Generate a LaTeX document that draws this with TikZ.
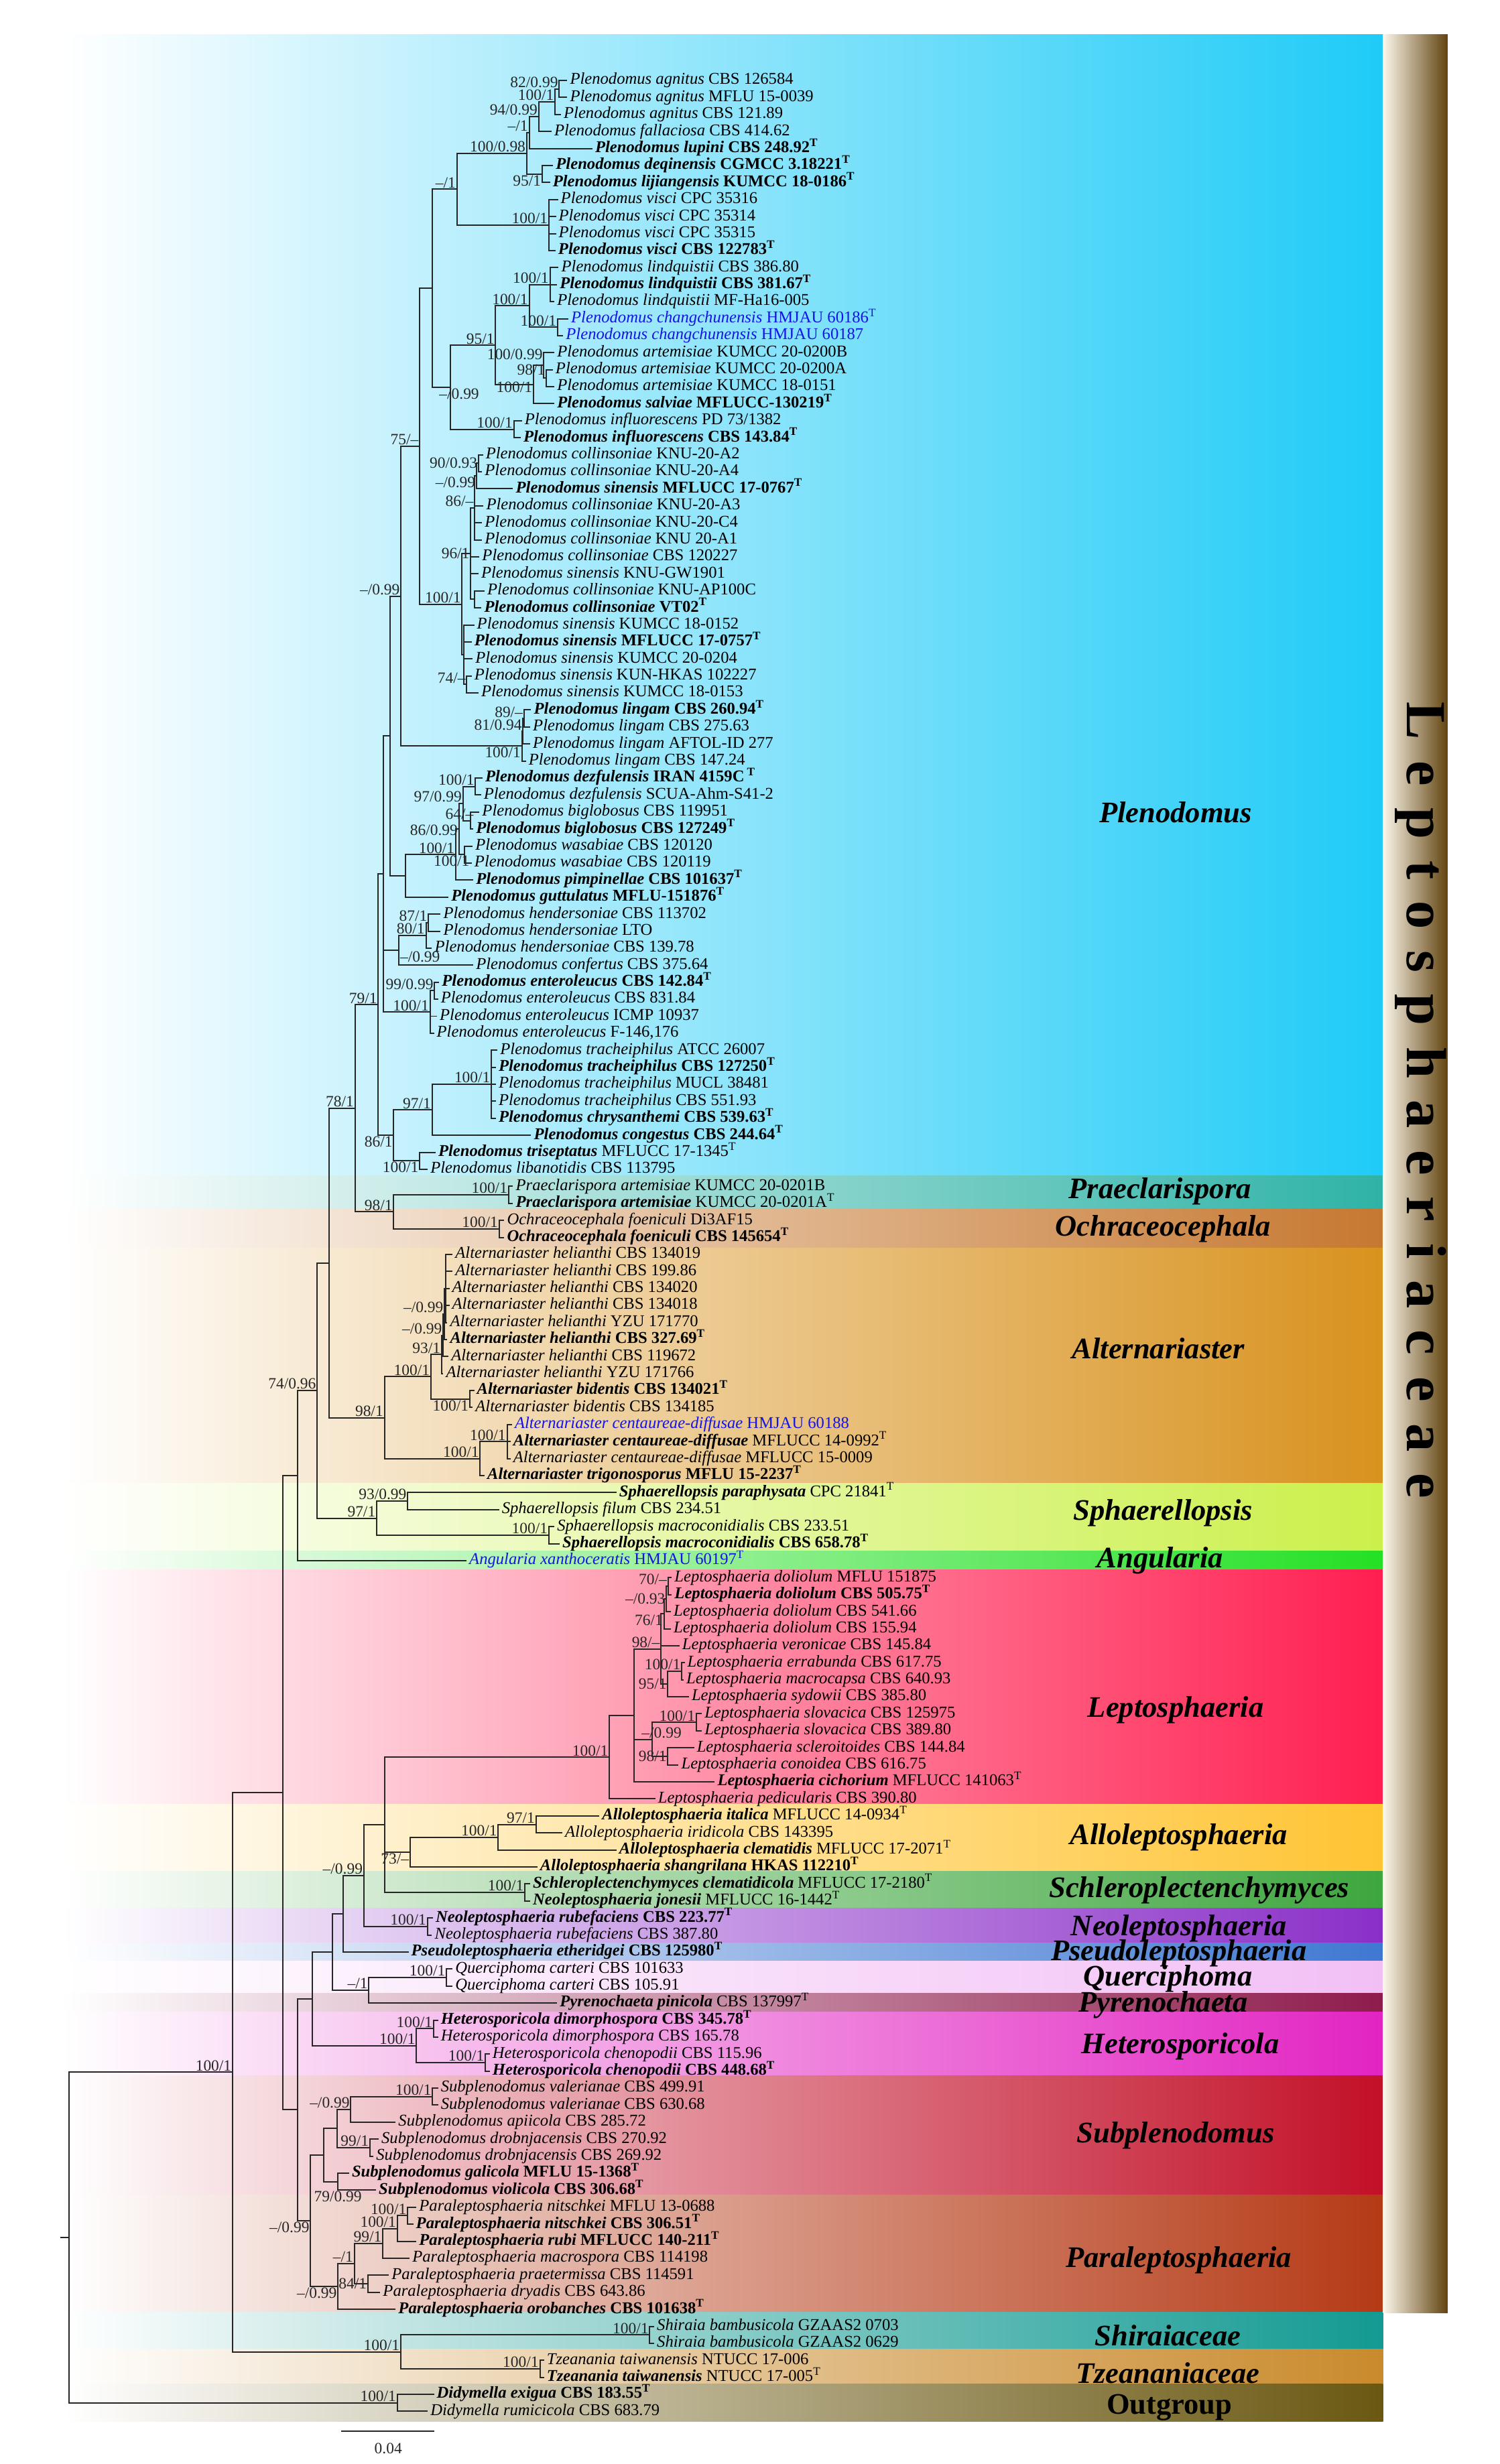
\documentclass[tikz,border=0pt]{standalone}
\usepackage{fontspec}
\setmainfont{Liberation Serif}
\usetikzlibrary{calc}

\definecolor{cPle}{HTML}{1FCBF7}
\definecolor{cPra}{HTML}{2FB3A6}
\definecolor{cOch}{HTML}{C67830}
\definecolor{cAlt}{HTML}{D8921E}
\definecolor{cSph}{HTML}{CBF04A}
\definecolor{cAng}{HTML}{24E024}
\definecolor{cLep}{HTML}{FF1F50}
\definecolor{cAll}{HTML}{FFC433}
\definecolor{cSch}{HTML}{3EA63E}
\definecolor{cNeo}{HTML}{8A2FC8}
\definecolor{cPse}{HTML}{3F78D2}
\definecolor{cQue}{HTML}{F2BFF5}
\definecolor{cPyr}{HTML}{8E1C4C}
\definecolor{cHet}{HTML}{E224C2}
\definecolor{cSub}{HTML}{C21028}
\definecolor{cPar}{HTML}{B53A16}
\definecolor{cShi}{HTML}{139A92}
\definecolor{cTze}{HTML}{C98A2C}
\definecolor{cOut}{HTML}{6A5812}
\definecolor{newsp}{HTML}{1414E6}
\definecolor{barL}{HTML}{FBF6EA}
\definecolor{barR}{HTML}{624410}

% taxon texts
\newcommand{\nm}[2]{\textit{#1} #2}
\newcommand{\nmT}[2]{\textbf{\textit{#1} #2\textsuperscript{T}}}
\newcommand{\nmTs}[2]{\textbf{\textit{#1}} #2\textsuperscript{T}}
% leaf, inner node, branches, support value
\newcommand{\taxon}[3]{\node[leaf] (L#1) at (#2,#1) {#3};}
\newcommand{\inode}[4]{\path let \p1=($(#3)!.5!(#4)$) in (#2pt,\y1) coordinate (#1);}
\newcommand{\kids}[2]{\foreach \kid in {#2}{\draw[branch] (#1) |- (\kid);}}
\newcommand{\supp}[3][ab]{\node[sup,#1] (s#2) at (#2) {#3};}

\begin{document}
\begin{tikzpicture}[x=1pt,y=-10.827pt,
  branch/.style={draw=black!85,line width=0.85pt,line cap=rect},
  leaf/.style={anchor=west,inner sep=0pt,inner xsep=2pt,text height=7pt,text depth=2pt,font=\fontsize{10.5}{11}\selectfont},
  sup/.style={inner sep=0.6pt,font=\fontsize{10}{11}\selectfont,text=black!85},
  ab/.style={anchor=south east},
  be/.style={anchor=north east},
  mi/.style={anchor=east},
  clade/.style={font=\fontsize{19}{21}\selectfont\bfseries\itshape,inner sep=0pt}]
\useasboundingbox (0,-3.7286) rectangle (954,141.0945);

% coloured bands
\foreach \ya/\yb/\col in {-1.697/65.36/cPle,65.36/67.30/cPra,67.30/69.61/cOch,
  69.61/83.46/cAlt,83.46/87.43/cSph,87.43/88.54/cAng,88.54/102.30/cLep,
  102.30/106.25/cAll,106.25/108.41/cSch,108.41/110.47/cNeo,110.47/111.52/cPse,
  111.52/113.41/cQue,113.41/114.53/cPyr,114.53/118.25/cHet,118.25/125.27/cSub,
  125.27/132.16/cPar,132.16/134.33/cShi,134.33/136.37/cTze,136.37/138.60/cOut}
  \shade[left color=white,right color=\col] (40,\ya) rectangle (880,\yb);
\shade[left color=barL,right color=barR] (880,-1.697) rectangle (921,132.23);

% leaves
\taxon{1}{360.5}{\nm{Plenodomus agnitus}{CBS 126584}}
\taxon{2}{360.5}{\nm{Plenodomus agnitus}{MFLU 15-0039}}
\taxon{3}{356.5}{\nm{Plenodomus agnitus}{CBS 121.89}}
\taxon{4}{350.5}{\nm{Plenodomus fallaciosa}{CBS 414.62}}
\taxon{5}{376.5}{\nmT{Plenodomus lupini}{CBS 248.92}}
\taxon{6}{351.5}{\nmT{Plenodomus deqinensis}{CGMCC 3.18221}}
\taxon{7}{349.5}{\nmT{Plenodomus lijiangensis}{KUMCC 18-0186}}
\taxon{8}{354.6}{\nm{Plenodomus visci}{CPC 35316}}
\taxon{9}{353.3}{\nm{Plenodomus visci}{CPC 35314}}
\taxon{10}{353.3}{\nm{Plenodomus visci}{CPC 35315}}
\taxon{11}{353}{\nmT{Plenodomus visci}{CBS 122783}}
\taxon{12}{355}{\nm{Plenodomus lindquistii}{CBS 386.80}}
\taxon{13}{354}{\nmT{Plenodomus lindquistii}{CBS 381.67}}
\taxon{14}{352.3}{\nm{Plenodomus lindquistii}{MF-Ha16-005}}
\taxon{15}{361.2}{\color{newsp}\nm{Plenodomus changchunensis}{HMJAU 60186}\textsuperscript{T}}
\taxon{16}{357.9}{\color{newsp}\nm{Plenodomus changchunensis}{HMJAU 60187}}
\taxon{17}{352.3}{\nm{Plenodomus artemisiae}{KUMCC 20-0200B}}
\taxon{18}{351.3}{\nm{Plenodomus artemisiae}{KUMCC 20-0200A}}
\taxon{19}{352.3}{\nm{Plenodomus artemisiae}{KUMCC 18-0151}}
\taxon{20}{352.3}{\nmT{Plenodomus salviae}{MFLUCC-130219}}
\taxon{21}{331.6}{\nm{Plenodomus influorescens}{PD 73/1382}}
\taxon{22}{330.9}{\nmT{Plenodomus influorescens}{CBS 143.84}}
\taxon{23}{306.9}{\nm{Plenodomus collinsoniae}{KNU-20-A2}}
\taxon{24}{306.3}{\nm{Plenodomus collinsoniae}{KNU-20-A4}}
\taxon{25}{326}{\nmT{Plenodomus sinensis}{MFLUCC 17-0767}}
\taxon{26}{307.2}{\nm{Plenodomus collinsoniae}{KNU-20-A3}}
\taxon{27}{306.3}{\nm{Plenodomus collinsoniae}{KNU-20-C4}}
\taxon{28}{306.3}{\nm{Plenodomus collinsoniae}{KNU 20-A1}}
\taxon{29}{304.6}{\nm{Plenodomus collinsoniae}{CBS 120227}}
\taxon{30}{304}{\nm{Plenodomus sinensis}{KNU-GW1901}}
\taxon{31}{307.9}{\nm{Plenodomus collinsoniae}{KNU-AP100C}}
\taxon{32}{305.9}{\nmT{Plenodomus collinsoniae}{VT02}}
\taxon{33}{301.3}{\nm{Plenodomus sinensis}{KUMCC 18-0152}}
\taxon{34}{299.7}{\nmT{Plenodomus sinensis}{MFLUCC 17-0757}}
\taxon{35}{300.3}{\nm{Plenodomus sinensis}{KUMCC 20-0204}}
\taxon{36}{299.7}{\nm{Plenodomus sinensis}{KUN-HKAS 102227}}
\taxon{37}{304}{\nm{Plenodomus sinensis}{KUMCC 18-0153}}
\taxon{38}{337.5}{\nmT{Plenodomus lingam}{CBS 260.94}}
\taxon{39}{336.9}{\nm{Plenodomus lingam}{CBS 275.63}}
\taxon{40}{336.9}{\nm{Plenodomus lingam}{AFTOL-ID 277}}
\taxon{41}{334.2}{\nm{Plenodomus lingam}{CBS 147.24}}
\taxon{42}{306.6}{\nmT{Plenodomus dezfulensis}{IRAN 4159C\,}}
\taxon{43}{305.6}{\nm{Plenodomus dezfulensis}{SCUA-Ahm-S41-2}}
\taxon{44}{304.6}{\nm{Plenodomus biglobosus}{CBS 119951}}
\taxon{45}{300.7}{\nmT{Plenodomus biglobosus}{CBS 127249}}
\taxon{46}{300.3}{\nm{Plenodomus wasabiae}{CBS 120120}}
\taxon{47}{299.7}{\nm{Plenodomus wasabiae}{CBS 120119}}
\taxon{48}{300.7}{\nmT{Plenodomus pimpinellae}{CBS 101637}}
\taxon{49}{284.9}{\nmT{Plenodomus guttulatus}{MFLU-151876}}
\taxon{50}{279.9}{\nm{Plenodomus hendersoniae}{CBS 113702}}
\taxon{51}{279.9}{\nm{Plenodomus hendersoniae}{LTO}}
\taxon{52}{274.4}{\nm{Plenodomus hendersoniae}{CBS 139.78}}
\taxon{53}{300.7}{\nm{Plenodomus confertus}{CBS 375.64}}
\taxon{54}{279}{\nmT{Plenodomus enteroleucus}{CBS 142.84}}
\taxon{55}{278.3}{\nm{Plenodomus enteroleucus}{CBS 831.84}}
\taxon{56}{277.6}{\nm{Plenodomus enteroleucus}{ICMP 10937}}
\taxon{57}{275.7}{\nm{Plenodomus enteroleucus}{F-146,176}}
\taxon{58}{316.1}{\nm{Plenodomus tracheiphilus}{ATCC 26007}}
\taxon{59}{315.1}{\nmT{Plenodomus tracheiphilus}{CBS 127250}}
\taxon{60}{315.1}{\nm{Plenodomus tracheiphilus}{MUCL 38481}}
\taxon{61}{315.1}{\nm{Plenodomus tracheiphilus}{CBS 551.93}}
\taxon{62}{315.1}{\nmT{Plenodomus chrysanthemi}{CBS 539.63}}
\taxon{63}{337.5}{\nmT{Plenodomus congestus}{CBS 244.64}}
\taxon{64}{276.7}{\nmTs{Plenodomus triseptatus}{MFLUCC 17-1345}}
\taxon{65}{271.7}{\nm{Plenodomus libanotidis}{CBS 113795}}
\taxon{66}{326}{\nm{Praeclarispora artemisiae}{KUMCC 20-0201B}}
\taxon{67}{326}{\nmTs{Praeclarispora artemisiae}{KUMCC 20-0201A}}
\taxon{68}{320.4}{\nm{Ochraceocephala foeniculi}{Di3AF15}}
\taxon{69}{320.4}{\nmT{Ochraceocephala foeniculi}{CBS 145654}}
\taxon{70}{287.5}{\nm{Alternariaster helianthi}{CBS 134019}}
\taxon{71}{287.5}{\nm{Alternariaster helianthi}{CBS 199.86}}
\taxon{72}{285.5}{\nm{Alternariaster helianthi}{CBS 134020}}
\taxon{73}{285.5}{\nm{Alternariaster helianthi}{CBS 134018}}
\taxon{74}{284.2}{\nm{Alternariaster helianthi}{YZU 171770}}
\taxon{75}{284.2}{\nmT{Alternariaster helianthi}{CBS 327.69}}
\taxon{76}{284.9}{\nm{Alternariaster helianthi}{CBS 119672}}
\taxon{77}{281.6}{\nm{Alternariaster helianthi}{YZU 171766}}
\taxon{78}{301.3}{\nmT{Alternariaster bidentis}{CBS 134021}}
\taxon{79}{300.3}{\nm{Alternariaster bidentis}{CBS 134185}}
\taxon{80}{325.3}{\color{newsp}\nm{Alternariaster centaureae-diffusae}{HMJAU 60188}}
\taxon{81}{324.4}{\nmTs{Alternariaster centaureae-diffusae}{MFLUCC 14-0992}}
\taxon{82}{324.4}{\nm{Alternariaster centaureae-diffusae}{MFLUCC 15-0009}}
\taxon{83}{307.9}{\nmT{Alternariaster trigonosporus}{MFLU 15-2237}}
\taxon{84}{391.8}{\nmTs{Sphaerellopsis paraphysata}{CPC 21841}}
\taxon{85}{317.1}{\nm{Sphaerellopsis filum}{CBS 234.51}}
\taxon{86}{352.3}{\nm{Sphaerellopsis macroconidialis}{CBS 233.51}}
\taxon{87}{355.6}{\nmT{Sphaerellopsis macroconidialis}{CBS 658.78}}
\taxon{88}{296.4}{\color{newsp}\nm{Angularia xanthoceratis}{HMJAU 60197}\textsuperscript{T}}
\taxon{89}{427}{\nm{Leptosphaeria doliolum}{MFLU 151875}}
\taxon{90}{427}{\nmT{Leptosphaeria doliolum}{CBS 505.75}}
\taxon{91}{426.4}{\nm{Leptosphaeria doliolum}{CBS 541.66}}
\taxon{92}{426.4}{\nm{Leptosphaeria doliolum}{CBS 155.94}}
\taxon{93}{431.9}{\nm{Leptosphaeria veronicae}{CBS 145.84}}
\taxon{94}{435.2}{\nm{Leptosphaeria errabunda}{CBS 617.75}}
\taxon{95}{434.5}{\nm{Leptosphaeria macrocapsa}{CBS 640.93}}
\taxon{96}{437.9}{\nm{Leptosphaeria sydowii}{CBS 385.80}}
\taxon{97}{446.1}{\nm{Leptosphaeria slovacica}{CBS 125975}}
\taxon{98}{446.1}{\nm{Leptosphaeria slovacica}{CBS 389.80}}
\taxon{99}{441.2}{\nm{Leptosphaeria scleroitoides}{CBS 144.84}}
\taxon{100}{431.3}{\nm{Leptosphaeria conoidea}{CBS 616.75}}
\taxon{101}{454.3}{\nmTs{Leptosphaeria cichorium}{MFLUCC 141063}}
\taxon{102}{416.5}{\nm{Leptosphaeria pedicularis}{CBS 390.80}}
\taxon{103}{380.9}{\nmTs{Alloleptosphaeria italica}{MFLUCC 14-0934}}
\taxon{104}{357.3}{\nm{Alloleptosphaeria iridicola}{CBS 143395}}
\taxon{105}{391.8}{\nmTs{Alloleptosphaeria clematidis}{MFLUCC 17-2071}}
\taxon{106}{341.5}{\nmT{Alloleptosphaeria shangrilana}{HKAS 112210}}
\taxon{107}{336.9}{\nmTs{Schleroplectenchymyces clematidicola}{MFLUCC 17-2180}}
\taxon{108}{336.9}{\nmTs{Neoleptosphaeria jonesii}{MFLUCC 16-1442}}
\taxon{109}{275}{\nmT{Neoleptosphaeria rubefaciens}{CBS 223.77}}
\taxon{110}{274.4}{\nm{Neoleptosphaeria rubefaciens}{CBS 387.80}}
\taxon{111}{259.5}{\nmT{Pseudoleptosphaeria etheridgei}{CBS 125980}}
\taxon{112}{287.5}{\nm{Querciphoma carteri}{CBS 101633}}
\taxon{113}{287.5}{\nm{Querciphoma carteri}{CBS 105.91}}
\taxon{114}{354}{\nmTs{Pyrenochaeta pinicola}{CBS 137997}}
\taxon{115}{278.3}{\nmT{Heterosporicola dimorphospora}{CBS 345.78}}
\taxon{116}{278.3}{\nm{Heterosporicola dimorphospora}{CBS 165.78}}
\taxon{117}{311.2}{\nm{Heterosporicola chenopodii}{CBS 115.96}}
\taxon{118}{311.2}{\nmT{Heterosporicola chenopodii}{CBS 448.68}}
\taxon{119}{278.3}{\nm{Subplenodomus valerianae}{CBS 499.91}}
\taxon{120}{278.3}{\nm{Subplenodomus valerianae}{CBS 630.68}}
\taxon{121}{251.3}{\nm{Subplenodomus apiicola}{CBS 285.72}}
\taxon{122}{240.5}{\nm{Subplenodomus drobnjacensis}{CBS 270.92}}
\taxon{123}{237.2}{\nm{Subplenodomus drobnjacensis}{CBS 269.92}}
\taxon{124}{221.7}{\nmT{Subplenodomus galicola}{MFLU 15-1368}}
\taxon{125}{238.8}{\nmT{Subplenodomus violicola}{CBS 306.68}}
\taxon{126}{264.5}{\nm{Paraleptosphaeria nitschkei}{MFLU 13-0688}}
\taxon{127}{262.5}{\nmT{Paraleptosphaeria nitschkei}{CBS 306.51}}
\taxon{128}{264.5}{\nmT{Paraleptosphaeria rubi}{MFLUCC 140-211}}
\taxon{129}{260.2}{\nm{Paraleptosphaeria macrospora}{CBS 114198}}
\taxon{130}{247}{\nm{Paraleptosphaeria praetermissa}{CBS 114591}}
\taxon{131}{241.5}{\nm{Paraleptosphaeria dryadis}{CBS 643.86}}
\taxon{132}{251.3}{\nmT{Paraleptosphaeria orobanches}{CBS 101638}}
\taxon{133}{415.8}{\nm{Shiraia bambusicola}{GZAAS2 0703}}
\taxon{134}{415.8}{\nm{Shiraia bambusicola}{GZAAS2 0629}}
\taxon{135}{345.7}{\nm{Tzeanania taiwanensis}{NTUCC 17-006}}
\taxon{136}{345.7}{\nmTs{Tzeanania taiwanensis}{NTUCC 17-005}}
\taxon{137}{275.7}{\nmT{Didymella exigua}{CBS 183.55}}
\taxon{138}{271.7}{\nm{Didymella rumicicola}{CBS 683.79}}

% inner nodes, Plenodomus
\inode{n1}{355.8}{L1}{L2}
\inode{n2}{353.2}{n1}{L3}
\inode{n3}{342.7}{n2}{L4}
\inode{n4}{336.7}{n3}{L5}
\inode{n5}{345}{L6}{L7}
\inode{n6}{335.1}{n4}{n5}
\inode{n7}{349.2}{L8}{L11}
\inode{n8}{290.7}{n6}{n7}
\inode{nl}{349.9}{L12}{L14}
\inode{nc}{354.8}{L15}{L16}
\inode{n13}{336.7}{nl}{nc}
\inode{n15}{347.6}{L18}{L19}
\inode{n16}{346}{L17}{n15}
\inode{n14}{339.4}{n16}{L20}
\inode{n11}{315.3}{n13}{n14}
\inode{n12}{326.9}{L21}{L22}
\inode{n9}{286.7}{n11}{n12}
\inode{n10}{275.2}{n8}{n9}
\inode{n19}{304.5}{L23}{L24}
\inode{n20}{303.2}{n19}{L25}
\inode{n21}{302}{n20}{L28}
\inode{n24}{302}{L31}{L32}
\inode{n22}{299.5}{n21}{n24}
\inode{n23b}{297}{L36}{L37}
\inode{n23}{295}{L33}{n23b}
\inode{n18}{294}{n22}{n23}
\inode{n17}{267}{n10}{n18}
\inode{n27}{333.4}{L38}{L39}
\inode{n28}{332.8}{n27}{L40}
\inode{n26}{332.1}{n28}{L41}
\inode{n25}{255.1}{n17}{n26}
\inode{n34}{302.5}{L42}{L43}
\inode{n36}{299.5}{L44}{L45}
\inode{n35}{294.5}{n34}{n36}
\inode{n37}{295.5}{L46}{L47}
\inode{n38}{292}{n35}{n37}
\inode{n31}{290}{n38}{L48}
\inode{n30}{257.8}{n31}{L49}
\inode{n29}{248}{n25}{n30}
\inode{n40}{272.6}{L50}{L51}
\inode{n41}{271}{n40}{L52}
\inode{n42}{253.8}{n41}{L53}
\inode{n43}{276.5}{L54}{L55}
\inode{n44}{273.6}{n43}{L57}
\inode{n45}{244}{n29}{n44}
\inode{n48}{312.7}{L58}{L62}
\inode{n49}{274.9}{n48}{L63}
\inode{n50}{267}{L64}{L65}
\inode{n51}{250.5}{n49}{n50}
\inode{n47}{240.7}{n45}{n51}
\inode{n54}{323.6}{L66}{L67}
\inode{n55}{317.6}{L68}{L69}
\inode{n53}{250.5}{n54}{n55}
\inode{n52}{225.9}{n47}{n53}
\inode{hA}{283.5}{L70}{L74}
\inode{hB}{282.8}{hA}{L75}
\inode{hC}{282}{hB}{L76}
\inode{hD}{281}{hC}{L77}
\inode{n60}{298.9}{L78}{L79}
\inode{n58}{274.2}{hD}{n60}
\inode{n61}{322.6}{L80}{L82}
\inode{n59}{305.5}{n61}{L83}
\inode{n57}{244.6}{n58}{n59}
\inode{n56}{209.4}{n52}{n57}
\inode{n64}{259.4}{L84}{L85}
\inode{n65}{349.2}{L86}{L87}
\inode{n63}{239.7}{n64}{n65}
\inode{n62}{201.8}{n56}{n63}
\inode{n66}{189.3}{n62}{L88}
% inner nodes, lower part
\inode{Lp1}{425}{L89}{L90}
\inode{Lp2}{424}{Lp1}{L91}
\inode{Lp3}{422.5}{Lp2}{L92}
\inode{Lp5}{433.8}{L94}{L95}
\inode{Lp6}{424.9}{Lp5}{L96}
\inode{Lp7}{420.6}{Lp3}{Lp6}
\inode{Ls1}{443}{L97}{L98}
\inode{Ls2}{424.9}{L99}{L100}
\inode{Ls3}{415}{Ls1}{Ls2}
\inode{Lp8}{403.5}{Lp7}{L101}
\inode{n70}{387.7}{Lp8}{L102}
\inode{A2}{341}{L103}{L104}
\inode{A1}{317}{A2}{L105}
\inode{A3}{261}{A1}{L106}
\inode{n74}{334}{L107}{L108}
\inode{n72}{244.6}{n70}{n74}
\inode{n77}{271.9}{L109}{L110}
\inode{n76}{231.5}{n72}{n77}
\inode{n78}{218.3}{n76}{L111}
\inode{n80}{284.1}{L112}{L113}
\inode{n81}{234.7}{n80}{L114}
\inode{n79}{211.7}{n78}{n81}
\inode{n83}{275.9}{L115}{L116}
\inode{n84}{308.8}{L117}{L118}
\inode{n85}{265}{n83}{n84}
\inode{n82}{198.6}{n79}{n85}
\inode{s1}{275.2}{L119}{L120}
\inode{s2}{223.2}{s1}{L121}
\inode{s3}{235.4}{L122}{L123}
\inode{s4}{214.3}{s2}{s3}
\inode{s5}{215}{L124}{L125}
\inode{s6}{205.8}{s4}{s5}
\inode{p1}{259.4}{L126}{L127}
\inode{p2}{252.8}{p1}{L128}
\inode{p3}{243.6}{p2}{L129}
\inode{p4}{234.1}{L130}{L131}
\inode{p5}{225.5}{p3}{p4}
\inode{p6}{215}{p5}{L132}
\inode{n87}{197.6}{s6}{p6}
\inode{n86}{189.3}{n82}{n87}
\inode{n67}{179.8}{n66}{n86}
\inode{n90}{413.4}{L133}{L134}
\inode{n91}{343.5}{L135}{L136}
\inode{n89}{255}{n90}{n91}
\inode{n88}{148}{n67}{n89}
\inode{n92}{252.8}{L137}{L138}
\inode{n93}{43.8}{n88}{n92}
\path (n93) ++(-5,0) coordinate (rt);

% branches
\kids{n1}{L1,L2}
\kids{n2}{n1,L3}
\kids{n3}{n2,L4}
\kids{n4}{n3,L5}
\kids{n5}{L6,L7}
\kids{n6}{n4,n5}
\kids{n7}{L8,L9,L10,L11}
\kids{n8}{n6,n7}
\kids{nl}{L12,L13,L14}
\kids{nc}{L15,L16}
\kids{n13}{nl,nc}
\kids{n15}{L18,L19}
\kids{n16}{L17,n15}
\kids{n14}{n16,L20}
\kids{n11}{n13,n14}
\kids{n12}{L21,L22}
\kids{n9}{n11,n12}
\kids{n10}{n8,n9}
\kids{n19}{L23,L24}
\kids{n20}{n19,L25}
\kids{n21}{n20,L26,L27,L28}
\kids{n24}{L31,L32}
\kids{n22}{n21,L29,L30,n24}
\kids{n23b}{L36,L37}
\kids{n23}{L33,L34,L35,n23b}
\kids{n18}{n22,n23}
\kids{n17}{n10,n18}
\kids{n27}{L38,L39}
\kids{n28}{n27,L40}
\kids{n26}{n28,L41}
\kids{n25}{n17,n26}
\kids{n34}{L42,L43}
\kids{n36}{L44,L45}
\kids{n35}{n34,n36}
\kids{n37}{L46,L47}
\kids{n38}{n35,n37}
\kids{n31}{n38,L48}
\kids{n30}{n31,L49}
\kids{n29}{n25,n30}
\kids{n40}{L50,L51}
\kids{n41}{n40,L52}
\kids{n42}{n41,L53}
\kids{n43}{L54,L55}
\kids{n44}{n43,L56,L57}
\kids{n45}{n29,n42,n44}
\kids{n48}{L58,L59,L60,L61,L62}
\kids{n49}{n48,L63}
\kids{n50}{L64,L65}
\kids{n51}{n49,n50}
\kids{n47}{n45,n51}
\kids{n54}{L66,L67}
\kids{n55}{L68,L69}
\kids{n53}{n54,n55}
\kids{n52}{n47,n53}
\kids{hA}{L70,L71,L72,L73,L74}
\kids{hB}{hA,L75}
\kids{hC}{hB,L76}
\kids{hD}{hC,L77}
\kids{n60}{L78,L79}
\kids{n58}{hD,n60}
\kids{n61}{L80,L81,L82}
\kids{n59}{n61,L83}
\kids{n57}{n58,n59}
\kids{n56}{n52,n57}
\kids{n64}{L84,L85}
\kids{n65}{L86,L87}
\kids{n63}{n64,n65}
\kids{n62}{n56,n63}
\kids{n66}{n62,L88}
\kids{Lp1}{L89,L90}
\kids{Lp2}{Lp1,L91}
\kids{Lp3}{Lp2,L92}
\kids{Lp5}{L94,L95}
\kids{Lp6}{Lp5,L96}
\kids{Lp7}{Lp3,L93,Lp6}
\kids{Ls1}{L97,L98}
\kids{Ls2}{L99,L100}
\kids{Ls3}{Ls1,Ls2}
\kids{Lp8}{Lp7,Ls3,L101}
\kids{n70}{Lp8,L102}
\kids{A2}{L103,L104}
\kids{A1}{A2,L105}
\kids{A3}{A1,L106}
\kids{n74}{L107,L108}
\kids{n72}{n70,A3,n74}
\kids{n77}{L109,L110}
\kids{n76}{n72,n77}
\kids{n78}{n76,L111}
\kids{n80}{L112,L113}
\kids{n81}{n80,L114}
\kids{n79}{n78,n81}
\kids{n83}{L115,L116}
\kids{n84}{L117,L118}
\kids{n85}{n83,n84}
\kids{n82}{n79,n85}
\kids{s1}{L119,L120}
\kids{s2}{s1,L121}
\kids{s3}{L122,L123}
\kids{s4}{s2,s3}
\kids{s5}{L124,L125}
\kids{s6}{s4,s5}
\kids{p1}{L126,L127}
\kids{p2}{p1,L128}
\kids{p3}{p2,L129}
\kids{p4}{L130,L131}
\kids{p5}{p3,p4}
\kids{p6}{p5,L132}
\kids{n87}{s6,p6}
\kids{n86}{n82,n87}
\kids{n67}{n66,n86}
\kids{n90}{L133,L134}
\kids{n91}{L135,L136}
\kids{n89}{n90,n91}
\kids{n88}{n67,n89}
\kids{n92}{L137,L138}
\kids{n93}{n88,n92}
\draw[branch] (rt) -- (n93);

% support values
\supp{n1}{82/0.99}
\supp{n2}{100/1}
\supp{n3}{94/0.99}
\supp{n4}{--/1}
\supp[be]{n5}{95/1}
\supp{n6}{100/0.98}
\supp{n7}{100/1}
\supp{n8}{--/1}
\supp{nl}{100/1}
\supp{nc}{100/1}
\supp{n13}{100/1}
\supp{n11}{95/1}
\supp[ab,yshift=3pt]{n16}{100/0.99}
\supp[ab,yshift=1pt]{n15}{98/1}
\supp[mi,yshift=-1.5pt]{n14}{100/1}
\supp[anchor=north west,xshift=-8pt]{n9}{--/0.99}
\supp{n12}{100/1}
\supp{n17}{75/--}
\supp[mi]{n19}{90/0.93}
\supp[be]{n20}{--/0.99}
\supp{n21}{86/--}
\supp[mi]{n22}{96/1}
\supp{n18}{100/1}
\supp{n23b}{74/--}
\supp{n25}{--/0.99}
\supp{n27}{89/--}
\supp{n28}{81/0.94}
\supp[be]{n26}{100/1}
\supp{n34}{100/1}
\supp{n35}{97/0.99}
\supp[ab,xshift=2.5pt]{n36}{64/--}
\supp[mi,yshift=-0.5pt]{n38}{86/0.99}
\supp{n31}{100/1}
\supp[be,xshift=4pt]{n37}{100/1}
\supp{n40}{87/1}
\supp{n41}{80/1}
\supp[anchor=north west]{n42}{--/0.99}
\supp{n43}{99/0.99}
\supp{n44}{100/1}
\supp{n47}{79/1}
\supp{n48}{100/1}
\supp{n49}{97/1}
\supp[be]{n51}{86/1}
\supp[be]{n50}{100/1}
\supp{n52}{78/1}
\supp{n54}{100/1}
\supp{n53}{98/1}
\supp{n55}{100/1}
\supp{hB}{--/0.99}
\supp{hC}{--/0.99}
\supp{hD}{93/1}
\supp{n58}{100/1}
\supp{n62}{74/0.96}
\supp{n57}{98/1}
\supp[be]{n60}{100/1}
\supp{n61}{100/1}
\supp{n59}{100/1}
\supp{n64}{93/0.99}
\supp{n63}{97/1}
\supp{n65}{100/1}
\supp{Lp1}{70/--}
\supp[mi]{Lp2}{--/0.93}
\supp[be]{Lp3}{76/1}
\supp{Lp7}{98/--}
\supp{Lp5}{100/1}
\supp[mi]{Lp6}{95/1}
\supp{Ls1}{100/1}
\supp[anchor=south west,xshift=-7.5pt]{Ls3}{--/0.99}
\supp[mi]{Ls2}{98/1}
\supp{n70}{100/1}
\supp{A2}{97/1}
\supp{A1}{100/1}
\supp[be]{A3}{73/--}
\supp{n74}{100/1}
\supp{n76}{--/0.99}
\supp{n77}{100/1}
\supp{n80}{100/1}
\supp{n81}{--/1}
\supp{n83}{100/1}
\supp{n85}{100/1}
\supp{n84}{100/1}
\supp{s1}{100/1}
\supp{s2}{--/0.99}
\supp{s3}{99/1}
\node[sup,anchor=north] (ss5) at (s5 |- L125) {79/0.99};
\supp{p1}{100/1}
\supp{p2}{100/1}
\supp{p3}{99/1}
\supp{p5}{--/1}
\supp[mi]{p4}{84/1}
\supp[be]{p6}{--/0.99}
\supp[be]{n87}{--/0.99}
\supp{n88}{100/1}
\supp{n89}{100/1}
\supp{n90}{100/1}
\supp{n91}{100/1}
\supp{n92}{100/1}

% clade names
\node[clade] (tPle) at (748,44.02) {Plenodomus};
\node[clade] (tPra) at (738,66.28) {Praeclarispora};
\node[clade] (tOch) at (740,68.5) {Ochraceocephala};
\node[clade] (tAlt) at (737,75.52) {Alternariaster};
\node[clade] (tSph) at (740,85.21) {Sphaerellopsis};
\node[clade] (tAng) at (738,87.99) {Angularia};
\node[clade] (tLep) at (748,96.76) {Leptosphaeria};
\node[clade] (tAll) at (750,104.25) {Alloleptosphaeria};
\node[clade] (tSch) at (763,107.38) {Schleroplectenchymyces};
\node[clade] (tNeo) at (750,109.6) {Neoleptosphaeria};
\node[clade] (tPse) at (750,111.08) {Pseudoleptosphaeria};
\node[clade] (tQue) at (743,112.56) {Querciphoma};
\node[clade] (tPyr) at (740,114.12) {Pyrenochaeta};
\node[clade] (tHet) at (751,116.53) {Heterosporicola};
\node[clade] (tSub) at (748,121.79) {Subplenodomus};
\node[clade] (tPar) at (750,129.1) {Paraleptosphaeria};
\node[clade] (tShi) at (743,133.53) {Shiraiaceae};
\node[clade] (tTze) at (743,135.74) {Tzeananiaceae};
\node[clade,font=\fontsize{19}{21}\selectfont\bfseries] (tOut) at (744,137.77) {Outgroup};
\node[rotate=-90,inner sep=0pt,font=\fontsize{36}{40}\selectfont\bfseries\addfontfeature{LetterSpace=38}] (fam) at (904,60.93) {Leptosphaeriaceae};

% scale bar
\coordinate (sb1) at (217.6,139.16);
\coordinate (sb2) at (275.9,139.16);
\draw[branch,line width=1.1pt] (sb1) -- (sb2);
\node[sup] (sbl) at (247,140.17) {0.04};
\end{tikzpicture}
\end{document}
